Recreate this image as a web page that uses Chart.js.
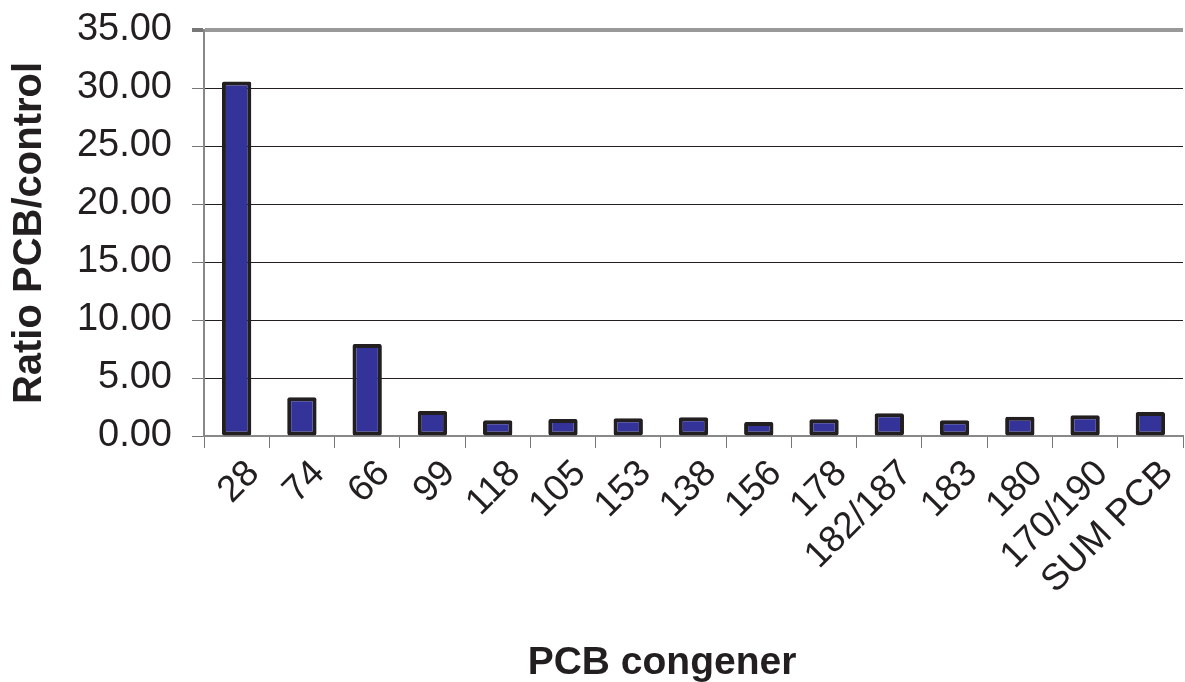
<!DOCTYPE html>
<html>
<head>
<meta charset="utf-8">
<script src="https://cdn.jsdelivr.net/npm/chart.js@4"></script>
<style>
  html, body { margin: 0; padding: 0; background: #fff; }
  #wrap { width: 1185px; height: 682px; }
</style>
</head>
<body>
<div id="wrap"><canvas id="myChart"></canvas></div>
<script>
const congeners = ['28', '74', '66', '99', '118', '105', '153', '138', '156', '178', '182/187', '183', '180', '170/190', 'SUM PCB'];
const ratios    = [30.57, 3.34, 7.94, 2.16, 1.35, 1.47, 1.53, 1.61, 1.21, 1.44, 1.96, 1.35, 1.67, 1.79, 2.07];
const yTicks    = [0, 5, 10, 15, 20, 25, 30, 35];
const xTitle    = 'PCB congener';
const yTitle    = 'Ratio PCB/control';

const ink = '#231f20';
const fam = '"Liberation Sans", Arial, sans-serif';
Chart.defaults.font.family = fam;
Chart.defaults.color = ink;

// x axis title sits left of the plot centre in the original, so it is put by hand
const xTitlePlugin = {
  id: 'xTitle',
  afterDraw(chart) {
    const c = chart.ctx;
    c.save();
    c.font = 'bold 39px ' + fam;
    c.fillStyle = ink;
    c.textAlign = 'center';
    c.textBaseline = 'alphabetic';
    c.fillText(xTitle, 662, 674);
    c.restore();
  }
};

const ctx = document.getElementById('myChart');
const myChart = new Chart(ctx, {
  type: 'bar',
  data: {
    labels: congeners,
    datasets: [{
      data: ratios,
      categoryPercentage: 1,
      barPercentage: 0.45,
      backgroundColor: '#333399',
      borderColor: ink,
      borderWidth: 4,
      borderRadius: 2,
      borderSkipped: false
    }]
  },
  plugins: [xTitlePlugin],
  options: {
    responsive: true,
    maintainAspectRatio: false,
    animation: false,
    layout: { padding: { left: 0, right: 2, top: 30, bottom: 0 } },
    plugins: { legend: { display: false }, tooltip: { enabled: false } },
    scales: {
      x: {
        afterFit: s => { s.height = 246; s.paddingLeft = 0; s.paddingRight = 0; },
        grid: { drawOnChartArea: false, tickLength: 12, tickColor: '#777', offset: true },
        border: { color: '#888', width: 2 },
        ticks: { font: { size: 37 }, color: ink, minRotation: 45, maxRotation: 45, autoSkip: false, padding: 4, labelOffset: 17 }
      },
      y: {
        min: 0, max: 35,
        afterFit: s => { s.width = 204; s.paddingTop = 0; s.paddingBottom = 0; },
        afterBuildTicks: s => { s.ticks = yTicks.map(v => ({ value: v })); },
        grid: {
          color: c => c.tick.value === 35 ? '#999' : (c.tick.value === 0 ? '#888' : ink),
          lineWidth: c => c.tick.value === 35 ? 4 : 1,
          tickLength: 12,
          tickColor: '#777'
        },
        border: { color: '#888', width: 2 },
        ticks: { font: { size: 38 }, color: ink, padding: 20, callback: v => v.toFixed(2) },
        title: { display: true, text: yTitle, font: { size: 40, weight: 'bold' }, color: ink, padding: { top: 6, bottom: 4 } }
      }
    }
  }
});
</script>
</body>
</html>
